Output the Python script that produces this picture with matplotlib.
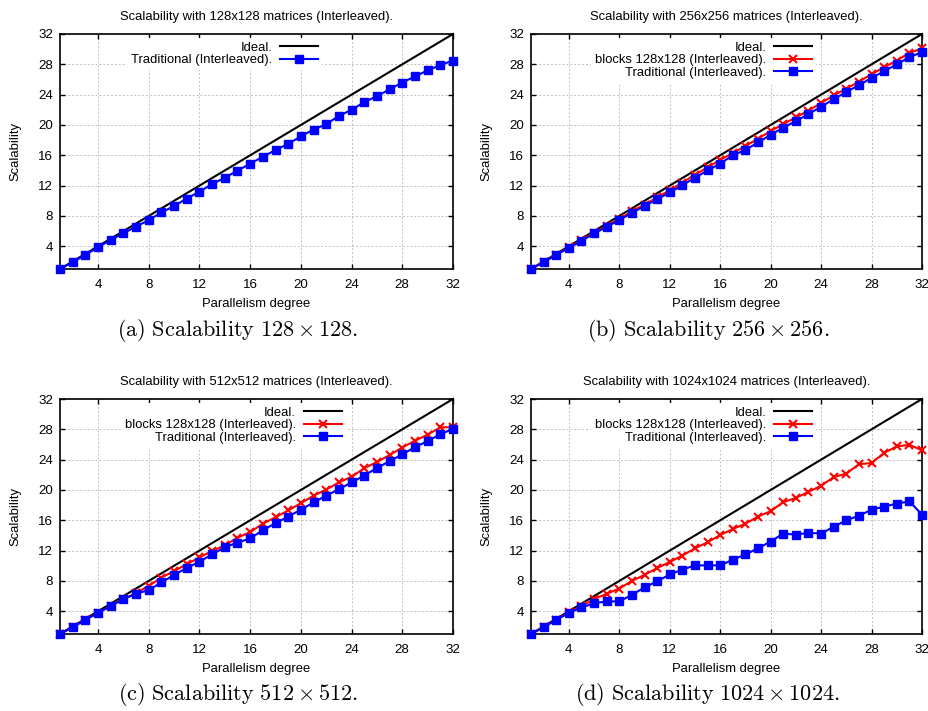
import numpy as np
import matplotlib
matplotlib.use("Agg")
import matplotlib.pyplot as plt

plt.rcParams['font.family'] = ['Liberation Sans', 'DejaVu Sans']
plt.rcParams['mathtext.fontset'] = 'cm'

# Parallelism degree (x axis) and the ideal speedup
degrees = list(range(1, 33))
ideal = list(range(1, 33))

# 128x128 matrices
trad_128 = [1.0, 1.9, 2.86, 3.87, 4.83, 5.7, 6.6, 7.45, 8.46, 9.3, 10.3, 11.2, 12.2, 13.05, 13.97, 14.9,
            15.8, 16.7, 17.5, 18.5, 19.4, 20.1, 21.2, 22.0, 23.0, 23.8, 24.7, 25.6, 26.4, 27.2, 27.9, 28.5]

# 256x256 matrices
blocks_256 = [1.0, 1.95, 2.9, 3.85, 4.8, 5.8, 6.7, 7.6, 8.6, 9.5, 10.45, 11.4, 12.4, 13.45, 14.4, 15.4,
              16.3, 17.2, 18.2, 19.2, 20.1, 21.0, 21.9, 22.9, 23.9, 24.8, 25.7, 26.7, 27.6, 28.5, 29.5, 30.1]
trad_256 = [1.0, 1.9, 2.86, 3.8, 4.7, 5.7, 6.55, 7.45, 8.4, 9.3, 10.2, 11.1, 12.05, 13.05, 14.0, 14.9,
            16.0, 16.7, 17.7, 18.7, 19.65, 20.5, 21.45, 22.4, 23.4, 24.35, 25.25, 26.2, 27.1, 28.0, 28.95, 29.6]

# 512x512 matrices
blocks_512 = [1.0, 1.95, 2.9, 3.8, 4.7, 5.6, 6.4, 7.35, 8.45, 9.3, 10.2, 11.1, 11.95, 12.7, 13.7, 14.45,
              15.55, 16.4, 17.3, 18.25, 19.25, 20.05, 21.0, 21.75, 22.85, 23.7, 24.6, 25.6, 26.5, 27.3, 28.25, 28.3]
trad_512 = [1.0, 1.9, 2.86, 3.8, 4.7, 5.6, 6.3, 6.8, 7.8, 8.8, 9.7, 10.55, 11.5, 12.45, 13.05, 13.6,
            14.7, 15.6, 16.5, 17.4, 18.35, 19.25, 20.1, 21.0, 21.9, 22.9, 23.8, 24.7, 25.65, 26.45, 27.35, 28.05]

# 1024x1024 matrices
blocks_1024 = [1.0, 1.9, 2.9, 3.87, 4.65, 5.6, 6.3, 7.0, 8.0, 8.8, 9.7, 10.5, 11.35, 12.3, 13.1, 14.05,
               14.85, 15.55, 16.5, 17.2, 18.4, 18.95, 19.75, 20.55, 21.7, 22.15, 23.4, 23.55, 24.9, 25.75, 25.95, 25.25]
trad_1024 = [1.0, 1.9, 2.86, 3.8, 4.5, 5.05, 5.3, 5.3, 6.15, 7.15, 7.95, 8.85, 9.5, 10.05, 10.05, 10.05,
             10.8, 11.5, 12.3, 13.2, 14.25, 14.1, 14.35, 14.25, 15.15, 16.0, 16.6, 17.4, 17.8, 18.2, 18.5, 16.75]

sizes = ["128x128", "256x256", "512x512", "1024x1024"]
captions = [r"$\mathrm{(a)\ Scalability\ }128\times128.$",
            r"$\mathrm{(b)\ Scalability\ }256\times256.$",
            r"$\mathrm{(c)\ Scalability\ }512\times512.$",
            r"$\mathrm{(d)\ Scalability\ }1024\times1024.$"]
blocks_all = [None, blocks_256, blocks_512, blocks_1024]
trad_all = [trad_128, trad_256, trad_512, trad_1024]

W, H = 929, 711
fig = plt.figure(figsize=(W / 100, H / 100), dpi=100)

# axes boxes in pixels: left, top, width, height
boxes = [(60, 34, 393, 235), (531, 34, 391, 235), (60, 399, 393, 235), (531, 399, 391, 235)]
legend_right = [0.657, 0.719, 0.717, 0.719]
caption_pos = [(238, 330), (708, 330), (238, 694), (707, 694)]

for i, (l, t, w, h) in enumerate(boxes):
    ax = fig.add_axes([l / W, (H - t - h) / H, w / W, h / H])
    ax.plot(degrees, ideal, color='black', lw=1.5, label='Ideal.', clip_on=False, zorder=3)
    if blocks_all[i] is not None:
        ax.plot(degrees, blocks_all[i], color='red', lw=1.5, marker='x', ms=5.5, mew=1.5,
                label='blocks 128x128 (Interleaved).', clip_on=False, zorder=4)
    ax.plot(degrees, trad_all[i], color='blue', lw=1.5, marker='s', ms=5.2,
            label='Traditional (Interleaved).', clip_on=False, zorder=5)

    ax.set_xlim(1, 32)
    ax.set_ylim(1, 32)
    ax.set_xticks(range(4, 33, 4))
    ax.set_yticks(range(4, 33, 4))
    ax.tick_params(direction='in', top=True, right=True, length=3.5, width=1,
                   labelsize=9.6, pad=5)
    ax.tick_params(axis='x', pad=7)
    for s in ax.spines.values():
        s.set_linewidth(1.2)
    ax.grid(True, color='#c0c0c0', linestyle=(0, (2, 2)), lw=0.7)
    ax.set_axisbelow(True)

    ax.set_title(f"Scalability with {sizes[i]} matrices (Interleaved).", fontsize=9.4, pad=10)
    ax.set_xlabel("Parallelism degree", fontsize=9.4, labelpad=5)
    ax.set_ylabel("Scalability", fontsize=9.4, labelpad=12)

    leg = ax.legend(loc='upper right', bbox_to_anchor=(legend_right[i] + 0.01, 0.985),
                    markerfirst=False, frameon=True, fancybox=False, facecolor='white',
                    edgecolor='none', framealpha=1, borderpad=0.3, borderaxespad=0,
                    handlelength=2.9, handletextpad=0.6, labelspacing=0.04, fontsize=9.4)
    leg.set_zorder(2)

    cx, cy = caption_pos[i]
    fig.text(cx / W, 1 - cy / H, captions[i], ha='center', va='center', fontsize=16)

fig.savefig("out.png", dpi=100)
